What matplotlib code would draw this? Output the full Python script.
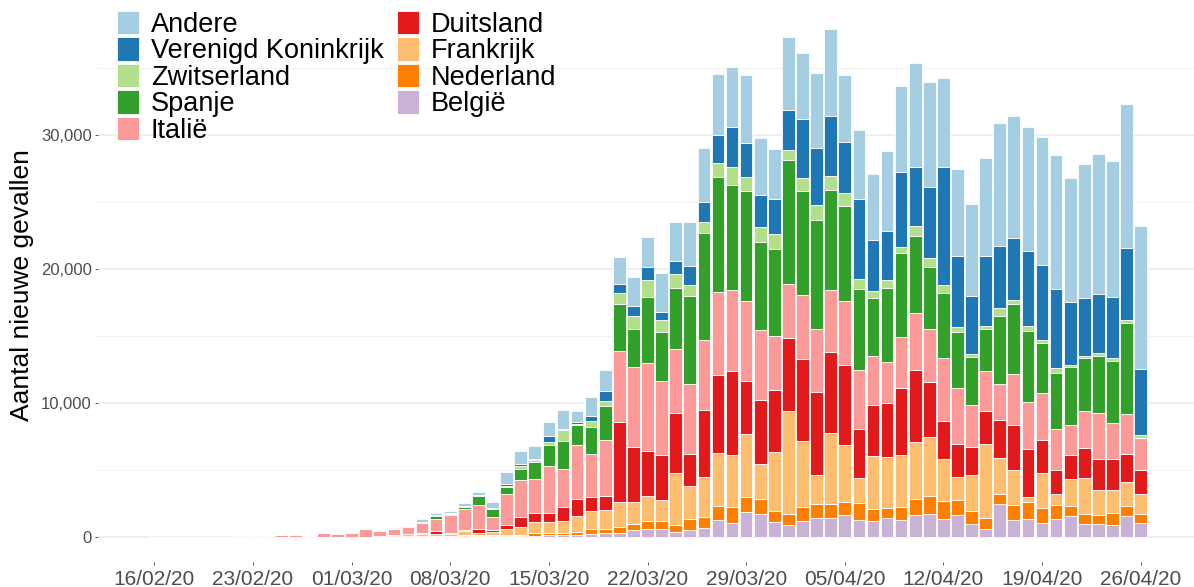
import numpy as np
import pandas as pd
import matplotlib
matplotlib.use("Agg")
from matplotlib import pyplot as plt

plt.rcParams['font.family'] = ['Liberation Sans', 'DejaVu Sans']

# daily new cases, one value per day starting 16/02/2020
start_date = "2020-02-16"

belgie = [0, 0, 0, 0, 0, 0, 0,
          0, 0, 0, 0, 0, 0, 0,
          0, 0, 0, 0, 0, 0, 0,
          0, 50, 50, 50, 50, 50, 70,
          100, 120, 120, 200, 280, 270, 470,
          570, 570, 350, 520, 650, 1270, 1020,
          1870, 1720, 1070, 850, 1190, 1370, 1390,
          1640, 1270, 1140, 1390, 1220, 1590, 1690,
          1340, 1640, 950, 570, 2460, 1270, 1340,
          1020, 1340, 1520, 970, 950, 900, 1520,
          1020]
nederland = [0, 0, 0, 0, 0, 0, 0,
             0, 0, 0, 0, 0, 0, 0,
             0, 0, 0, 0, 50, 50, 50,
             50, 50, 50, 50, 100, 100, 170,
             150, 170, 200, 370, 300, 420, 500,
             620, 600, 520, 800, 850, 1020, 1190,
             1120, 1090, 870, 870, 1020, 1090, 1070,
             920, 1240, 950, 750, 970, 1220, 1320,
             1340, 1120, 1000, 820, 720, 1070, 1240,
             1120, 1040, 750, 750, 700, 870, 800,
             670]
frankrijk = [0, 0, 0, 0, 0, 0, 0,
             0, 0, 0, 0, 0, 0, 0,
             0, 0, 50, 70, 120, 150, 150,
             150, 350, 200, 250, 420, 550, 820,
             820, 900, 1250, 1370, 1390, 1890, 1640,
             1870, 1570, 3880, 2490, 2990, 3960, 3860,
             4650, 2610, 4380, 7640, 4900, 2110, 5270,
             4300, 1870, 3900, 3810, 3880, 4250, 4400,
             3110, 1670, 2690, 5520, 2660, 2610, 370,
             2610, 800, 2040, 2660, 1820, 1690, 1770,
             1520]
duitsland = [0, 0, 0, 0, 0, 0, 0,
             0, 0, 0, 0, 0, 0, 0,
             0, 0, 0, 20, 50, 50, 250,
             50, 50, 280, 150, 320, 800, 670,
             670, 1040, 1250, 1000, 1040, 5970, 4080,
             3310, 3330, 4480, 2360, 4950, 5820, 6320,
             4000, 4800, 4650, 5470, 6170, 6220, 6090,
             5970, 3660, 3860, 4030, 5020, 5400, 4130,
             2860, 2510, 2060, 2490, 2890, 3380, 3610,
             2490, 1770, 1820, 2240, 2360, 2340, 2090,
             1790]
italie = [0, 0, 0, 0, 0, 0, 20,
          50, 70, 100, 100, 70, 240, 200,
          260, 560, 350, 460, 500, 800, 870,
          1370, 1550, 1750, 1000, 2300, 2700, 2560,
          3560, 2860, 4000, 3230, 4230, 5350, 6020,
          6590, 5570, 4780, 5250, 5220, 6190, 6000,
          6000, 5220, 4050, 4030, 4780, 4700, 4600,
          4800, 4380, 3610, 3060, 3860, 4230, 3980,
          4680, 4150, 3160, 2990, 2660, 3830, 3530,
          3480, 3080, 2240, 2740, 3410, 2690, 3010,
          2360]
spanje = [0, 0, 0, 0, 0, 0, 0,
          0, 0, 0, 0, 0, 0, 0,
          20, 20, 0, 30, 50, 70, 200,
          100, 150, 670, 550, 500, 870, 1250,
          1540, 2060, 1500, 2040, 2540, 3480, 2810,
          4980, 3680, 4550, 6590, 8010, 8630, 7890,
          8210, 6590, 6440, 9280, 7790, 8160, 7510,
          7090, 6070, 4350, 5500, 6220, 5770, 4600,
          4900, 4180, 3530, 3110, 5120, 5220, 5300,
          3730, 4230, 4280, 3980, 4230, 4650, 6770,
          0]
zwitserland = [0, 0, 0, 0, 0, 0, 0,
               0, 0, 0, 0, 0, 0, 0,
               0, 0, 0, 0, 0, 0, 50,
               30, 50, 50, 50, 120, 200, 150,
               250, 800, 100, 400, 320, 850, 1000,
               1240, 870, 1040, 800, 870, 1000, 1370,
               1040, 1070, 1140, 750, 970, 1120, 1020,
               920, 770, 550, 600, 500, 770, 720,
               570, 420, 250, 200, 600, 300, 350,
               250, 320, 200, 170, 250, 200, 200,
               250]
vk = [0, 0, 0, 0, 0, 0, 0,
      0, 0, 0, 0, 0, 0, 0,
      0, 0, 0, 0, 0, 0, 30,
      30, 50, 50, 50, 120, 120, 120,
      450, 100, 120, 420, 750, 650, 720,
      1000, 620, 1000, 1440, 1490, 2110, 2940,
      2540, 2460, 2660, 2990, 4350, 4230, 4480,
      3810, 5950, 3810, 3660, 5550, 4400, 5250,
      8780, 5300, 4350, 5300, 4600, 4600, 5620,
      5600, 5900, 4680, 4300, 4430, 4600, 5400,
      4900]
andere = [0, 0, 0, 0, 0, 0, 0,
          0, 0, 0, 0, 0, 40, 20,
          40, 40, 50, 40, 50, 200, 200,
          120, 200, 200, 450, 870, 1000, 990,
          1060, 1400, 810, 1370, 1620, 2040, 2190,
          2240, 2860, 2940, 3280, 3980, 4550, 4530,
          5050, 4230, 3680, 5420, 4980, 5670, 6470,
          5020, 5170, 4900, 6040, 6470, 7760, 7890,
          6690, 6440, 6870, 7310, 9200, 9150, 9250,
          9530, 10070, 9300, 10000, 10420, 10150, 10770,
          10720]

# stacked from the bottom up
series = [
    ("België", belgie, "#CAB2D6"),
    ("Nederland", nederland, "#FF7F00"),
    ("Frankrijk", frankrijk, "#FDBF6F"),
    ("Duitsland", duitsland, "#E31A1C"),
    ("Italië", italie, "#FB9A99"),
    ("Spanje", spanje, "#33A02C"),
    ("Zwitserland", zwitserland, "#B2DF8A"),
    ("Verenigd Koninkrijk", vk, "#1F78B4"),
    ("Andere", andere, "#A6CEE3"),
]

dates = pd.date_range(start_date, periods=len(belgie), freq="D")
x = np.arange(len(dates))

fig = plt.figure(figsize=(11.94, 5.87), dpi=100)
ax = fig.add_axes([98 / 1194, 25 / 587, 1099 / 1194, 558 / 587])

bottom = np.zeros(len(x))
handles = []
for name, vals, col in series:
    vals = np.array(vals, dtype=float)
    b = ax.bar(x, vals, 0.9, bottom=bottom, color=col, edgecolor="white",
               linewidth=0.6, label=name)
    bottom += vals
    handles.append(b)

top = bottom.max()
ax.set_ylim(-0.05 * top, 1.05 * top)
ax.set_xlim(-4.0, 74.0)

ticks = x[::7]
ax.set_xticks(ticks)
ax.set_xticklabels([dates[i].strftime("%d/%m/%y") for i in ticks])
ax.set_yticks([0, 10000, 20000, 30000])
ax.set_yticklabels(["0", "10,000", "20,000", "30,000"])
ax.set_yticks([5000, 15000, 25000, 35000], minor=True)

ax.grid(axis="y", which="major", color="#ebebeb", linewidth=1.1)
ax.grid(axis="y", which="minor", color="#f2f2f2", linewidth=0.7)
ax.set_axisbelow(True)
for s in ax.spines.values():
    s.set_visible(False)

ax.tick_params(axis="y", which="minor", length=0)
ax.tick_params(axis="both", which="major", length=2.5, width=0.7,
               color="#555555", labelcolor="#4d4d4d")
ax.tick_params(axis="x", labelsize=15, pad=3)
ax.tick_params(axis="y", labelsize=12, pad=2)

fig.text(22 / 1194, 1 - 285 / 587, "Aantal nieuwe gevallen", rotation=90,
         ha="center", va="center", fontsize=19, color="black")

fig.legend(handles[::-1], [s[0] for s in series][::-1], loc="upper left",
           bbox_to_anchor=(117 / 1194, 1 - 11 / 587), ncol=2, frameon=False,
           fontsize=19.5, labelspacing=-0.02, handlelength=0.8, handleheight=0.95,
           handletextpad=0.45, columnspacing=0.5, borderpad=0, borderaxespad=0)

plt.savefig("out.png", dpi=100)
plt.close()
